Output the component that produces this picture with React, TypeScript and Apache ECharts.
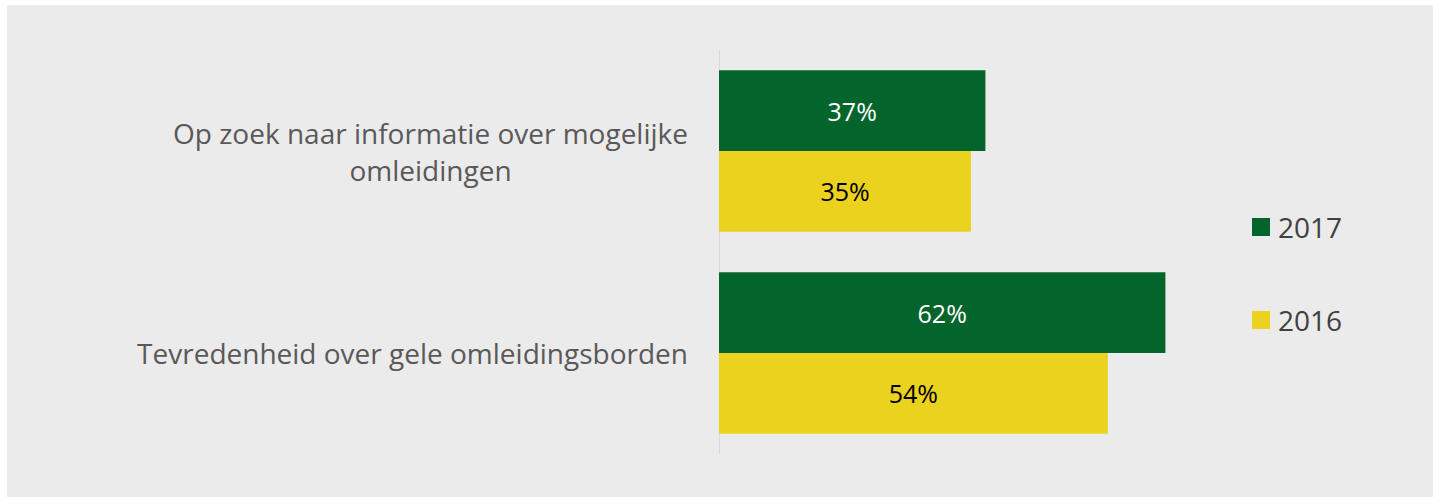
import React, { useEffect, useRef } from "react";
import * as echarts from "echarts";

const categories = [
  "Op zoek naar informatie over mogelijke\nomleidingen",
  "Tevredenheid over gele omleidingsborden",
];
const seriesNames = ["2017", "2016"];
const values2017 = [37, 62];
const values2016 = [35, 54];

const GREEN = "#03652B";
const YELLOW = "#EBD21E";
const FONT = "'Open Sans', sans-serif";

export default function App() {
  const ref = useRef<HTMLDivElement>(null);
  useEffect(() => {
    if (!ref.current) return;
    const chart = echarts.init(ref.current, undefined, { renderer: "svg" });
    chart.setOption({
      animation: false,
      backgroundColor: "#EBEBEB",
      textStyle: { fontFamily: FONT },
      legend: {
        orient: "vertical",
        left: 1240,
        top: 203,
        itemWidth: 18,
        itemHeight: 18,
        itemGap: 65,
        icon: "rect",
        data: seriesNames,
        textStyle: {
          fontSize: 28,
          lineHeight: 28,
          color: "#404040",
          fontFamily: FONT,
          padding: [0, 0, 0, 3],
        },
      },
      grid: { left: 712, right: 210, top: 45, bottom: 43 },
      xAxis: {
        type: "value",
        min: 0,
        max: 70,
        show: false,
      },
      yAxis: {
        type: "category",
        inverse: true,
        data: categories,
        axisLine: { show: true, lineStyle: { color: "#D9D9D9", width: 1 } },
        axisTick: { show: false },
        axisLabel: {
          margin: 31,
          fontSize: 28,
          color: "#595959",
          fontFamily: FONT,
          lineHeight: 37,
          formatter: (v: string) =>
            v
              .split("\n")
              .map((l) => `{c|${l}}`)
              .join("\n"),
          rich: {
            c: { align: "center", fontSize: 28, color: "#595959", fontFamily: FONT, lineHeight: 37 },
          },
        },
      },
      series: [
        {
          name: seriesNames[0],
          type: "bar",
          data: values2017,
          barGap: "0%",
          barCategoryGap: "20%",
          itemStyle: { color: GREEN },
          label: {
            show: true,
            position: "inside",
            formatter: "{c}%",
            color: "#FFFFFF",
            fontSize: 25,
            fontFamily: FONT,
          },
        },
        {
          name: seriesNames[1],
          type: "bar",
          data: values2016,
          barGap: "0%",
          barCategoryGap: "20%",
          itemStyle: { color: YELLOW },
          label: {
            show: true,
            position: "inside",
            formatter: "{c}%",
            color: "#000000",
            fontSize: 25,
            fontFamily: FONT,
          },
        },
      ],
    });
    return () => chart.dispose();
  }, []);
  return (
    <div style={{ position: "fixed", left: 0, top: 0, width: 1433, height: 497, background: "#FFFFFF" }}>
      <div ref={ref} style={{ position: "absolute", left: 7, top: 5, width: 1426, height: 492 }} />
    </div>
  );
}
